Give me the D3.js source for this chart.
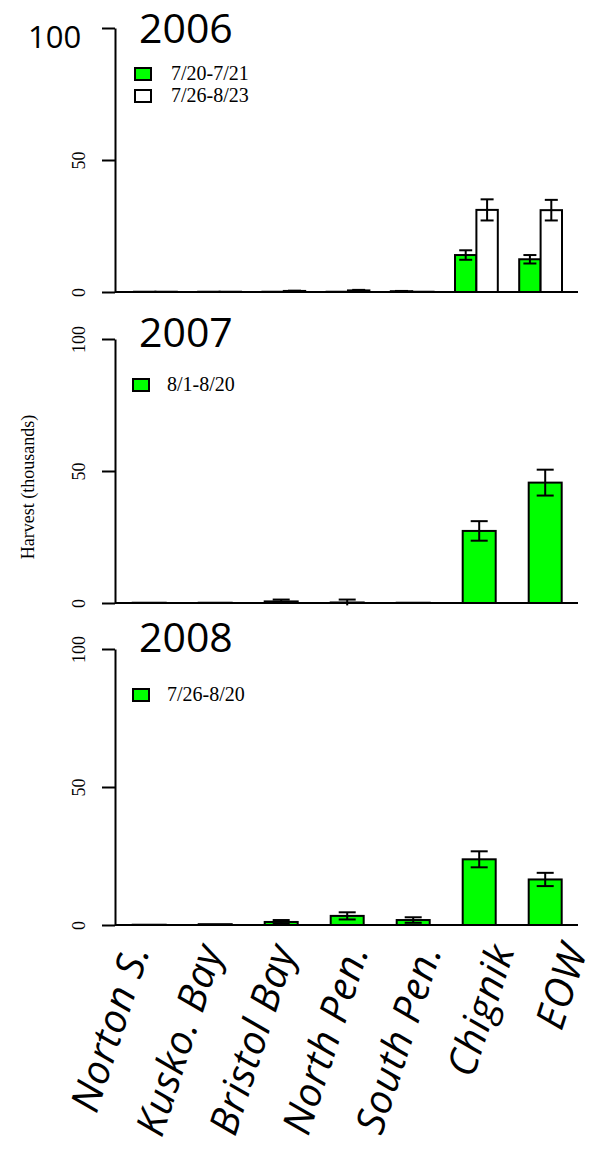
<!DOCTYPE html>
<html>
<head>
<meta charset="utf-8">
<script src="https://cdn.jsdelivr.net/npm/d3@7"></script>
<style>
  body { margin: 0; background: #fff; }
  .axis path, .axis line { stroke: #000; stroke-width: 2; }
</style>
</head>
<body>
<div id="chart"></div>
<script>
const regions = ['Norton S.', 'Kusko. Bay', 'Bristol Bay', 'North Pen.', 'South Pen.', 'Chignik', 'EOW'];
const yTicks = [0, 50, 100];

// 2006: two sampling periods
const periods2006 = ['7/20-7/21', '7/26-8/23'];
const harvest2006early = [0.1, 0.1, 0.1, 0.1, 0.3, 14.0, 12.4];
const error2006early = [0, 0, 0, 0, 0.1, 1.8, 1.6];
const harvest2006late = [0.1, 0.1, 0.4, 0.6, 0.1, 31.1, 31.0];
const error2006late = [0, 0, 0.1, 0.2, 0, 4.0, 3.9];

// 2007
const periods2007 = ['8/1-8/20'];
const harvest2007 = [0.1, 0.1, 0.6, 0.2, 0.1, 27.3, 45.6];
const error2007 = [0, 0, 0.7, 1.1, 0, 3.7, 4.9];

// 2008
const periods2008 = ['7/26-8/20'];
const harvest2008 = [0.1, 0.3, 1.1, 3.3, 1.8, 23.8, 16.5];
const error2008 = [0, 0, 0.7, 1.3, 1.0, 2.9, 2.4];

const W = 606, H = 1154;
const axisX = 115, plotRight = 578;
const green = '#00ff00';
const serif = "'Liberation Serif', 'Times New Roman', serif";
const sans = "'Open Sans', sans-serif";

const panels = [
  { year: '2006', top: 28, bottom: 292, range: [112.6, 583.4], pad: 1 / 3, cap: 13,
    titleY: 43, legendX: 135, legendTextX: 171, legendY: 80, bigHundred: true,
    series: [
      { label: periods2006[0], values: harvest2006early, errors: error2006early, fill: green },
      { label: periods2006[1], values: harvest2006late, errors: error2006late, fill: '#fff' },
    ] },
  { year: '2007', top: 339, bottom: 603, range: [99.7, 594.7], pad: 0.5, cap: 17,
    titleY: 347, legendX: 133, legendTextX: 167, legendY: 391,
    series: [{ label: periods2007[0], values: harvest2007, errors: error2007, fill: green }] },
  { year: '2008', top: 649, bottom: 925, range: [99.7, 594.7], pad: 0.5, cap: 17,
    titleY: 652, legendX: 133, legendTextX: 167, legendY: 701,
    series: [{ label: periods2008[0], values: harvest2008, errors: error2008, fill: green }] },
];

const svg = d3.select('#chart')
  .append('svg')
    .attr('width', W)
    .attr('height', H)
    .attr('viewBox', `0 0 ${W} ${H}`);

svg.append('rect').attr('width', W).attr('height', H).attr('fill', '#fff');

panels.forEach(p => {
  const y = d3.scaleLinear().domain([0, 100]).range([p.bottom, p.top]);
  const x = d3.scaleBand().domain(regions).range(p.range)
    .paddingInner(p.pad).paddingOuter(p.pad);
  const xSub = d3.scaleBand().domain(d3.range(p.series.length)).range([0, x.bandwidth()]);

  const g = svg.append('g');

  // y axis
  const ax = g.append('g')
    .attr('class', 'axis')
    .attr('transform', `translate(${axisX},0)`)
    .call(d3.axisLeft(y).tickValues(yTicks).tickSize(13).tickSizeOuter(0)
      .tickFormat(d => (p.bigHundred && d === 100) ? '' : d));
  ax.selectAll('.tick text')
    .attr('transform', 'rotate(-90)')
    .attr('x', 0)
    .attr('y', -30)
    .attr('dy', 0)
    .attr('text-anchor', 'middle')
    .attr('font-family', serif)
    .attr('font-size', 18)
    .attr('fill', '#000');

  // baseline
  g.append('line')
    .attr('x1', axisX).attr('x2', plotRight)
    .attr('y1', y(0)).attr('y2', y(0))
    .attr('stroke', '#000').attr('stroke-width', 2);

  // bars
  p.series.forEach((s, i) => {
    const rows = regions.map((r, k) => ({ region: r, value: s.values[k], err: s.errors[k] }));
    const cx = d => x(d.region) + xSub(i) + xSub.bandwidth() / 2;

    g.append('g').selectAll('rect')
      .data(rows)
      .join('rect')
        .attr('x', d => x(d.region) + xSub(i))
        .attr('y', d => y(d.value))
        .attr('width', xSub.bandwidth())
        .attr('height', d => y(0) - y(d.value))
        .attr('fill', s.fill)
        .attr('stroke', '#000')
        .attr('stroke-width', 2);

    const eb = g.append('g')
      .attr('stroke', '#000')
      .attr('stroke-width', 2)
      .selectAll('g')
      .data(rows.filter(d => d.err > 0))
      .join('g');
    eb.append('line')
      .attr('x1', cx).attr('x2', cx)
      .attr('y1', d => y(d.value - d.err)).attr('y2', d => y(d.value + d.err));
    eb.append('line')
      .attr('x1', d => cx(d) - p.cap / 2).attr('x2', d => cx(d) + p.cap / 2)
      .attr('y1', d => y(d.value + d.err)).attr('y2', d => y(d.value + d.err));
    eb.append('line')
      .attr('x1', d => cx(d) - p.cap / 2).attr('x2', d => cx(d) + p.cap / 2)
      .attr('y1', d => y(Math.max(0, d.value - d.err))).attr('y2', d => y(Math.max(0, d.value - d.err)));

    // legend
    g.append('rect')
      .attr('x', p.legendX)
      .attr('y', p.legendY - 12 + i * 22)
      .attr('width', 16)
      .attr('height', 12)
      .attr('fill', s.fill)
      .attr('stroke', '#000')
      .attr('stroke-width', 2);
    g.append('text')
      .attr('x', p.legendTextX)
      .attr('y', p.legendY + i * 22)
      .attr('font-family', serif)
      .attr('font-size', 20)
      .text(s.label);
  });

  // year title
  g.append('text')
    .attr('x', 139)
    .attr('y', p.titleY)
    .attr('font-family', sans)
    .attr('font-size', 41)
    .text(p.year);

  if (p.bigHundred) {
    g.append('text')
      .attr('x', 28)
      .attr('y', 48)
      .attr('font-family', sans)
      .attr('font-size', 31)
      .text('100');
  }
});

// y title
svg.append('text')
  .attr('transform', 'translate(34,487) rotate(-90)')
  .attr('text-anchor', 'middle')
  .attr('font-family', serif)
  .attr('font-size', 18)
  .text('Harvest (thousands)');

// slanted region labels under the last panel
const labelX = d3.scalePoint().domain(regions).range([150, 588]);
svg.append('g')
  .selectAll('text')
  .data(regions)
  .join('text')
    .attr('transform', d => `translate(${labelX(d)},950) matrix(0.309,-0.951,0.951,0.309,0,0)`)
    .attr('text-anchor', 'end')
    .attr('font-family', sans)
    .attr('font-size', 40)
    .attr('letter-spacing', 0.8)
    .attr('font-style', 'italic')
    .text(d => d);
</script>
</body>
</html>
